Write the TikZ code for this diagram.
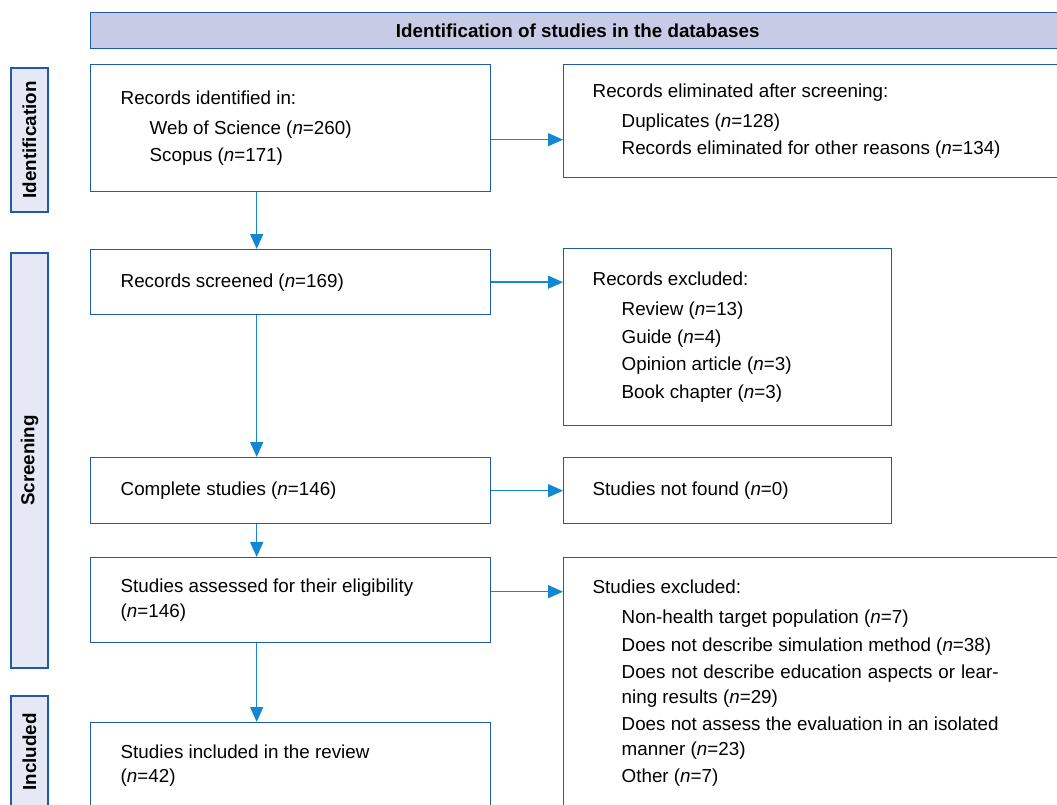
\documentclass[tikz,border=0pt]{standalone}
\usepackage{fontspec}
\setmainfont{Liberation Sans}
\usetikzlibrary{arrows.meta}

\definecolor{boxblue}{RGB}{30,90,170}
\definecolor{arrowblue}{RGB}{18,135,210}
\definecolor{headfill}{RGB}{200,203,230}
\definecolor{sidefill}{RGB}{231,232,245}

\newcommand{\nval}[1]{(\textit{n}=#1)}
\newcommand{\listhead}[1]{#1\par\vspace{2.5pt}\leftskip=29pt\parskip=3pt\relax}

\begin{document}
\begin{tikzpicture}[x=1pt, y=-1pt,
	box/.style={draw=boxblue, line width=1.4pt, fill=white, anchor=north west,
		inner xsep=30pt, inner ysep=3pt, align=justify,
		font=\fontsize{18.8}{24.5}\selectfont},
	rbox/.style={box, inner xsep=29pt},
	head/.style={draw=boxblue, line width=1.4pt, fill=headfill, anchor=north west,
		font=\fontsize{18.8}{24.5}\selectfont\bfseries},
	side/.style={draw=boxblue, line width=1.4pt, fill=sidefill, rotate=90,
		inner sep=0pt, font=\fontsize{18.8}{24.5}\selectfont\bfseries},
	arr/.style={draw=arrowblue, line width=1.5pt, -{Triangle[length=15pt, width=13pt]}}]
	
	\useasboundingbox (0,0) rectangle (1057,805);
	\clip (0,0) rectangle (1057,805);
	
	% --- 1. header and stage labels ---
	\node[head, minimum width=974pt, minimum height=36pt] (head) at (90,12) {Identification of studies in the databases};
	\node[side, minimum width=144pt, minimum height=37pt] (sideid) at (29.5,140) {Identification};
	\node[side, minimum width=415pt, minimum height=37pt] (sidescr) at (29.5,460.5) {Screening};
	\node[side, minimum width=112pt, minimum height=37pt] (sideinc) at (29.5,752) {Included};
	
	% --- 2. main column ---
	\node[box, text width=340pt, minimum height=127pt] (ident) at (90,64)
	{\listhead{Records identified in:}Web of Science \nval{260}\par Scopus \nval{171}\par};
	\node[box, text width=340pt, minimum height=65pt] (screened) at (90,249)
	{Records screened \nval{169}};
	\node[box, text width=340pt, minimum height=66pt] (complete) at (90,457)
	{Complete studies \nval{146}};
	\node[box, text width=340pt, minimum height=85pt] (assessed) at (90,557)
	{Studies assessed for their eligibility\par \nval{146}};
	\node[box, text width=340pt, minimum height=86pt] (included) at (90,722)
	{Studies included in the review\par \nval{42}};
	
	% --- 3. side column ---
	\node[rbox, text width=443pt, minimum height=113pt] (elim) at (563,64)
	{\listhead{Records eliminated after screening:}Duplicates \nval{128}\par Records eliminated for other reasons \nval{134}\par};
	\node[rbox, text width=270pt, minimum height=177pt] (excl) at (563,248)
	{\listhead{Records excluded:}Review \nval{13}\par Guide \nval{4}\par Opinion article \nval{3}\par Book chapter \nval{3}\par};
	\node[rbox, text width=270pt, minimum height=66pt] (notfound) at (563,457)
	{Studies not found \nval{0}};
	\node[rbox, text width=443pt, minimum height=251pt] (studexcl) at (563,557)
	{\listhead{Studies excluded:}\rightskip=37pt
		Non-health target population \nval{7}\par
		Does not describe simulation method \nval{38}\par
		Does not describe education aspects or lear-\linebreak ning results \nval{29}\par
		Does not assess the evaluation in an isolated\linebreak manner \nval{23}\par
		Other \nval{7}\par};
	
	% --- 4. arrows down ---
	\draw[arr] ([xshift=-34pt]ident.south) -- ([xshift=-34pt]ident.south |- screened.north);
	\draw[arr] ([xshift=-34pt]screened.south) -- ([xshift=-34pt]screened.south |- complete.north);
	\draw[arr] ([xshift=-34pt]complete.south) -- ([xshift=-34pt]complete.south |- assessed.north);
	\draw[arr] ([xshift=-34pt]assessed.south) -- ([xshift=-34pt]assessed.south |- included.north);
	
	% --- 5. arrows to the right ---
	\draw[arr] ([yshift=-11.5pt]ident.east) -- ([yshift=-11.5pt]ident.east -| elim.west);
	\draw[arr] (screened.east) -- (screened.east -| excl.west);
	\draw[arr] (complete.east) -- (complete.east -| notfound.west);
	\draw[arr] ([yshift=8.5pt]assessed.east) -- ([yshift=8.5pt]assessed.east -| studexcl.west);
	
\end{tikzpicture}
\end{document}
